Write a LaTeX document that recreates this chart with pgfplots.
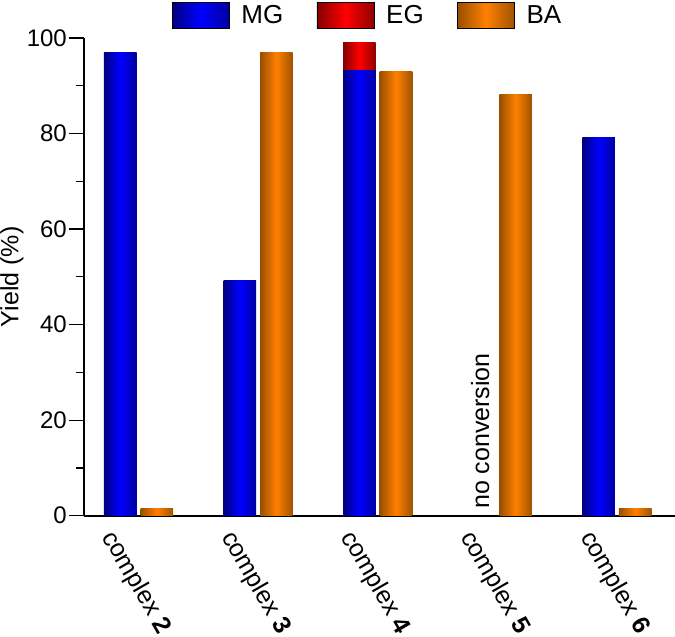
\documentclass[border=0pt]{standalone}
\usepackage{fontspec}
\setmainfont{Liberation Sans}
\usepackage{pgfplots}
\pgfplotsset{compat=1.18}
\definecolor{mgL}{HTML}{000080}
\definecolor{mgM}{HTML}{0000FF}
\definecolor{mgR}{HTML}{0000A0}
\definecolor{egL}{HTML}{850000}
\definecolor{egM}{HTML}{FF0000}
\definecolor{egR}{HTML}{900000}
\definecolor{baL}{HTML}{9A4E00}
\definecolor{baM}{HTML}{FF8000}
\definecolor{baR}{HTML}{A05200}
\newcommand{\fA}{\fontsize{24}{24}\selectfont}
\newcommand{\fB}{\fontsize{25}{25}\selectfont}
\newcommand{\fC}{\fontsize{26}{26}\selectfont}
\tikzset{
  mgshade/.style={left color=mgL, right color=mgR, middle color=mgM},
  egshade/.style={left color=egL, right color=egR, middle color=egM},
  bashade/.style={left color=baL, right color=baR, middle color=baM},
}
\pgfplotsset{
  onebar/.style={ybar, bar shift=0pt, bar width=0.273, draw=none, forget plot},
}
\begin{document}
\begin{tikzpicture}
\begin{axis}[
  at={(0,0)}, anchor=south west,
  scale only axis, width=591pt, height=477.7pt,
  xmin=0.544, xmax=5.486, ymin=0, ymax=100,
  axis x line*=bottom, axis y line*=left,
  axis line style={line width=1.6pt, black},
  ytick={0,20,...,100}, minor y tick num=1,
  tick align=outside,
  major tick length=15pt, minor tick length=8pt,
  tick style={line width=1.2pt, black},
  xtick={1,2,3,4,5},
  xticklabels={{\fB complex \textbf{2}}, {\fB complex \textbf{3}}, {\fB complex \textbf{4}}, {\fB complex \textbf{5}}, {\fB complex \textbf{6}}},
  xtick style={draw=none},
  yticklabel={\fA\pgfmathprintnumber[assume math mode=true]{\tick}},
  yticklabel style={inner sep=2pt},
  xticklabel style={inner sep=0pt, anchor=north west, xshift=-21pt, yshift=3pt, rotate=-60},
  ylabel={\fB Yield (\%)},
  ylabel style={at={(axis description cs:-0.1421,0.5)}, anchor=north, inner sep=0pt},
  legend columns=3,
  legend style={at={(0.1489,1.0754)}, anchor=north west, draw=none, fill=none, inner sep=0pt, outer sep=0pt,
    nodes={inner sep=0pt},
    /tikz/every odd column/.append style={column sep=12pt},
    /tikz/every even column/.append style={column sep=33.5pt}},
  clip=false,
]
\addlegendimage{legend image code/.code={\path[mgshade] (0pt,-13pt) rectangle (57pt,13pt);}}
\addlegendentry{\fC MG}
\addlegendimage{legend image code/.code={\path[egshade] (0pt,-13pt) rectangle (57pt,13pt);}}
\addlegendentry{\fC EG}
\addlegendimage{legend image code/.code={\path[bashade] (0pt,-13pt) rectangle (57pt,13pt);}}
\addlegendentry{\fC BA}
% complex 2
\addplot[onebar, mgshade] coordinates {(0.847,97)};
\addplot[onebar, bashade] coordinates {(1.153,1.5)};
% complex 3
\addplot[onebar, mgshade] coordinates {(1.847,49.3)};
\addplot[onebar, bashade] coordinates {(2.153,97)};
% complex 4 (EG stacked on MG: total 99)
\addplot[onebar, egshade] coordinates {(2.847,99)};
\addplot[onebar, mgshade] coordinates {(2.847,93.1)};
\addplot[onebar, bashade] coordinates {(3.153,93)};
% complex 5
\addplot[onebar, bashade] coordinates {(4.153,88.1)};
% complex 6
\addplot[onebar, mgshade] coordinates {(4.847,79.2)};
\addplot[onebar, bashade] coordinates {(5.153,1.5)};
\node[rotate=90, anchor=base west, inner sep=0pt] at (axis cs:3.932,1.4) {\fB no conversion};
\end{axis}
\pgfresetboundingbox
\path[use as bounding box] (-84pt,-121.3pt) rectangle (591pt,515.7pt);
\end{tikzpicture}
\end{document}
